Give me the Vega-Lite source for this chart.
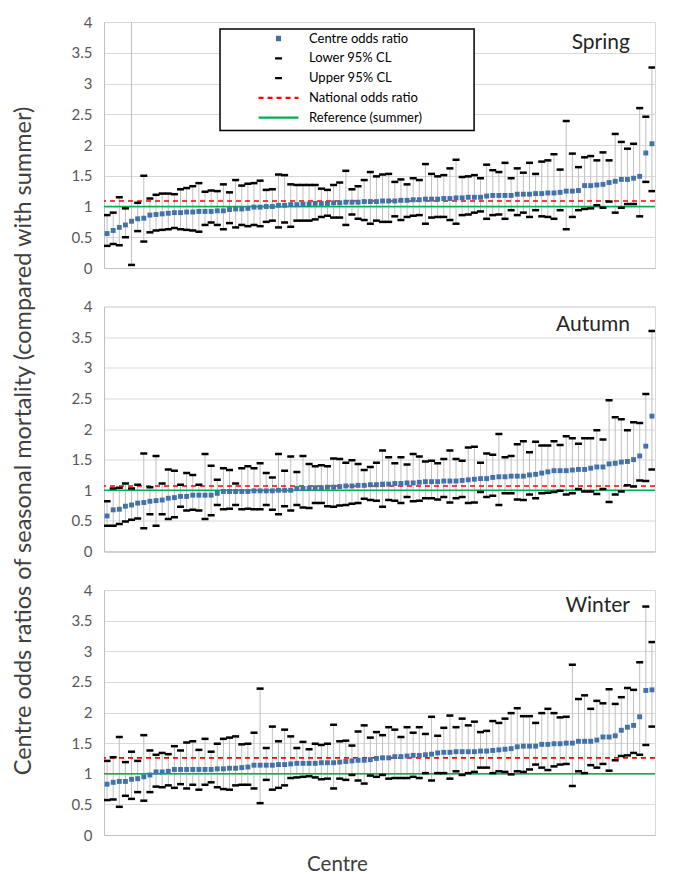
{
  "$schema": "https://vega.github.io/schema/vega-lite/v6.json",
  "background": "white",
  "padding": {"left": 10, "top": 14, "right": 5, "bottom": 5},
  "bounds": "flush",
  "spacing": 38.5,
  "config": {
    "font": "Lato",
    "view": {"stroke": "#d9d9d9", "strokeWidth": 1},
    "axis": {"labelFont": "Lato", "titleFont": "Lato", "labelOverlap": false},
    "axisY": {"tickCount": 9, "labelOverlap": false, "labelFlush": false, "labelSeparation": 0},
    "text": {"font": "Lato"}
  },
  "datasets": {
    "panels": [
      {"season": "Spring", "national": 1.09, "reference": 1},
      {"season": "Autumn", "national": 1.07, "reference": 1},
      {"season": "Winter", "national": 1.26, "reference": 1}
    ],
    "legend": [
      {"item": "Centre odds ratio"},
      {"item": "Lower 95% CL"},
      {"item": "Upper 95% CL"},
      {"item": "National odds ratio"},
      {"item": "Reference (summer)"}
    ],
    "centres": [
      {"season":"Spring","centre":1,"odds":0.56,"lower":0.36,"upper":0.86},
      {"season":"Spring","centre":2,"odds":0.61,"lower":0.39,"upper":0.90},
      {"season":"Spring","centre":3,"odds":0.66,"lower":0.37,"upper":1.15},
      {"season":"Spring","centre":4,"odds":0.70,"lower":0.50,"upper":0.97},
      {"season":"Spring","centre":5,"odds":0.76,"lower":0.05,"upper":9.00},
      {"season":"Spring","centre":6,"odds":0.80,"lower":0.60,"upper":1.06},
      {"season":"Spring","centre":7,"odds":0.81,"lower":0.43,"upper":1.50},
      {"season":"Spring","centre":8,"odds":0.86,"lower":0.58,"upper":1.13},
      {"season":"Spring","centre":9,"odds":0.87,"lower":0.61,"upper":1.19},
      {"season":"Spring","centre":10,"odds":0.88,"lower":0.62,"upper":1.21},
      {"season":"Spring","centre":11,"odds":0.89,"lower":0.63,"upper":1.21},
      {"season":"Spring","centre":12,"odds":0.90,"lower":0.65,"upper":1.20},
      {"season":"Spring","centre":13,"odds":0.90,"lower":0.63,"upper":1.28},
      {"season":"Spring","centre":14,"odds":0.91,"lower":0.62,"upper":1.30},
      {"season":"Spring","centre":15,"odds":0.91,"lower":0.61,"upper":1.33},
      {"season":"Spring","centre":16,"odds":0.92,"lower":0.59,"upper":1.38},
      {"season":"Spring","centre":17,"odds":0.92,"lower":0.70,"upper":1.24},
      {"season":"Spring","centre":18,"odds":0.92,"lower":0.74,"upper":1.26},
      {"season":"Spring","centre":19,"odds":0.93,"lower":0.70,"upper":1.25},
      {"season":"Spring","centre":20,"odds":0.93,"lower":0.63,"upper":1.36},
      {"season":"Spring","centre":21,"odds":0.95,"lower":0.73,"upper":1.23},
      {"season":"Spring","centre":22,"odds":0.96,"lower":0.66,"upper":1.43},
      {"season":"Spring","centre":23,"odds":0.96,"lower":0.70,"upper":1.34},
      {"season":"Spring","centre":24,"odds":0.97,"lower":0.68,"upper":1.37},
      {"season":"Spring","centre":25,"odds":0.99,"lower":0.70,"upper":1.38},
      {"season":"Spring","centre":26,"odds":0.99,"lower":0.68,"upper":1.42},
      {"season":"Spring","centre":27,"odds":1.00,"lower":0.75,"upper":1.27},
      {"season":"Spring","centre":28,"odds":1.00,"lower":0.77,"upper":1.28},
      {"season":"Spring","centre":29,"odds":1.02,"lower":0.66,"upper":1.52},
      {"season":"Spring","centre":30,"odds":1.02,"lower":0.74,"upper":1.51},
      {"season":"Spring","centre":31,"odds":1.03,"lower":0.67,"upper":1.36},
      {"season":"Spring","centre":32,"odds":1.03,"lower":0.77,"upper":1.35},
      {"season":"Spring","centre":33,"odds":1.04,"lower":0.77,"upper":1.35},
      {"season":"Spring","centre":34,"odds":1.04,"lower":0.77,"upper":1.35},
      {"season":"Spring","centre":35,"odds":1.05,"lower":0.79,"upper":1.35},
      {"season":"Spring","centre":36,"odds":1.05,"lower":0.83,"upper":1.29},
      {"season":"Spring","centre":37,"odds":1.05,"lower":0.85,"upper":1.27},
      {"season":"Spring","centre":38,"odds":1.06,"lower":0.82,"upper":1.35},
      {"season":"Spring","centre":39,"odds":1.06,"lower":0.82,"upper":1.39},
      {"season":"Spring","centre":40,"odds":1.07,"lower":0.70,"upper":1.58},
      {"season":"Spring","centre":41,"odds":1.07,"lower":0.87,"upper":1.28},
      {"season":"Spring","centre":42,"odds":1.07,"lower":0.80,"upper":1.33},
      {"season":"Spring","centre":43,"odds":1.08,"lower":0.78,"upper":1.43},
      {"season":"Spring","centre":44,"odds":1.08,"lower":0.72,"upper":1.56},
      {"season":"Spring","centre":45,"odds":1.08,"lower":0.77,"upper":1.49},
      {"season":"Spring","centre":46,"odds":1.09,"lower":0.75,"upper":1.52},
      {"season":"Spring","centre":47,"odds":1.09,"lower":0.75,"upper":1.53},
      {"season":"Spring","centre":48,"odds":1.09,"lower":0.84,"upper":1.40},
      {"season":"Spring","centre":49,"odds":1.10,"lower":0.78,"upper":1.44},
      {"season":"Spring","centre":50,"odds":1.10,"lower":0.83,"upper":1.36},
      {"season":"Spring","centre":51,"odds":1.11,"lower":0.85,"upper":1.46},
      {"season":"Spring","centre":52,"odds":1.11,"lower":0.86,"upper":1.43},
      {"season":"Spring","centre":53,"odds":1.12,"lower":0.72,"upper":1.69},
      {"season":"Spring","centre":54,"odds":1.12,"lower":0.82,"upper":1.53},
      {"season":"Spring","centre":55,"odds":1.12,"lower":0.83,"upper":1.49},
      {"season":"Spring","centre":56,"odds":1.13,"lower":0.83,"upper":1.51},
      {"season":"Spring","centre":57,"odds":1.13,"lower":0.78,"upper":1.62},
      {"season":"Spring","centre":58,"odds":1.14,"lower":0.72,"upper":1.76},
      {"season":"Spring","centre":59,"odds":1.14,"lower":0.86,"upper":1.48},
      {"season":"Spring","centre":60,"odds":1.15,"lower":0.87,"upper":1.49},
      {"season":"Spring","centre":61,"odds":1.15,"lower":0.90,"upper":1.51},
      {"season":"Spring","centre":62,"odds":1.15,"lower":0.92,"upper":1.46},
      {"season":"Spring","centre":63,"odds":1.17,"lower":0.80,"upper":1.68},
      {"season":"Spring","centre":64,"odds":1.18,"lower":0.86,"upper":1.59},
      {"season":"Spring","centre":65,"odds":1.18,"lower":0.87,"upper":1.56},
      {"season":"Spring","centre":66,"odds":1.18,"lower":0.80,"upper":1.71},
      {"season":"Spring","centre":67,"odds":1.18,"lower":0.94,"upper":1.46},
      {"season":"Spring","centre":68,"odds":1.20,"lower":0.86,"upper":1.62},
      {"season":"Spring","centre":69,"odds":1.20,"lower":0.90,"upper":1.55},
      {"season":"Spring","centre":70,"odds":1.20,"lower":0.83,"upper":1.71},
      {"season":"Spring","centre":71,"odds":1.21,"lower":0.94,"upper":1.53},
      {"season":"Spring","centre":72,"odds":1.21,"lower":0.84,"upper":1.73},
      {"season":"Spring","centre":73,"odds":1.22,"lower":0.83,"upper":1.75},
      {"season":"Spring","centre":74,"odds":1.22,"lower":0.80,"upper":1.85},
      {"season":"Spring","centre":75,"odds":1.23,"lower":0.94,"upper":1.60},
      {"season":"Spring","centre":76,"odds":1.25,"lower":0.63,"upper":2.39},
      {"season":"Spring","centre":77,"odds":1.25,"lower":0.83,"upper":1.86},
      {"season":"Spring","centre":78,"odds":1.26,"lower":0.94,"upper":1.64},
      {"season":"Spring","centre":79,"odds":1.34,"lower":0.96,"upper":1.80},
      {"season":"Spring","centre":80,"odds":1.34,"lower":0.97,"upper":1.82},
      {"season":"Spring","centre":81,"odds":1.35,"lower":1.02,"upper":1.75},
      {"season":"Spring","centre":82,"odds":1.36,"lower":0.98,"upper":1.88},
      {"season":"Spring","centre":83,"odds":1.39,"lower":1.08,"upper":1.75},
      {"season":"Spring","centre":84,"odds":1.41,"lower":0.90,"upper":2.18},
      {"season":"Spring","centre":85,"odds":1.44,"lower":0.98,"upper":2.05},
      {"season":"Spring","centre":86,"odds":1.44,"lower":1.04,"upper":1.94},
      {"season":"Spring","centre":87,"odds":1.46,"lower":1.04,"upper":2.02},
      {"season":"Spring","centre":88,"odds":1.49,"lower":0.84,"upper":2.60},
      {"season":"Spring","centre":89,"odds":1.87,"lower":1.40,"upper":2.46},
      {"season":"Spring","centre":90,"odds":2.02,"lower":1.25,"upper":3.26},
      {"season":"Autumn","centre":1,"odds":0.58,"lower":0.42,"upper":0.82},
      {"season":"Autumn","centre":2,"odds":0.68,"lower":0.42,"upper":1.03},
      {"season":"Autumn","centre":3,"odds":0.69,"lower":0.45,"upper":1.04},
      {"season":"Autumn","centre":4,"odds":0.74,"lower":0.49,"upper":1.11},
      {"season":"Autumn","centre":5,"odds":0.76,"lower":0.52,"upper":1.03},
      {"season":"Autumn","centre":6,"odds":0.79,"lower":0.54,"upper":1.09},
      {"season":"Autumn","centre":7,"odds":0.80,"lower":0.38,"upper":1.60},
      {"season":"Autumn","centre":8,"odds":0.82,"lower":0.61,"upper":1.05},
      {"season":"Autumn","centre":9,"odds":0.83,"lower":0.42,"upper":1.56},
      {"season":"Autumn","centre":10,"odds":0.84,"lower":0.61,"upper":1.11},
      {"season":"Autumn","centre":11,"odds":0.87,"lower":0.53,"upper":1.34},
      {"season":"Autumn","centre":12,"odds":0.88,"lower":0.56,"upper":1.32},
      {"season":"Autumn","centre":13,"odds":0.90,"lower":0.73,"upper":1.09},
      {"season":"Autumn","centre":14,"odds":0.90,"lower":0.67,"upper":1.28},
      {"season":"Autumn","centre":15,"odds":0.92,"lower":0.68,"upper":1.25},
      {"season":"Autumn","centre":16,"odds":0.92,"lower":0.67,"upper":1.09},
      {"season":"Autumn","centre":17,"odds":0.92,"lower":0.53,"upper":1.59},
      {"season":"Autumn","centre":18,"odds":0.92,"lower":0.59,"upper":1.40},
      {"season":"Autumn","centre":19,"odds":0.95,"lower":0.76,"upper":1.17},
      {"season":"Autumn","centre":20,"odds":0.98,"lower":0.69,"upper":1.36},
      {"season":"Autumn","centre":21,"odds":0.98,"lower":0.70,"upper":1.33},
      {"season":"Autumn","centre":22,"odds":0.98,"lower":0.76,"upper":1.11},
      {"season":"Autumn","centre":23,"odds":0.98,"lower":0.69,"upper":1.36},
      {"season":"Autumn","centre":24,"odds":0.98,"lower":0.70,"upper":1.39},
      {"season":"Autumn","centre":25,"odds":0.99,"lower":0.69,"upper":1.36},
      {"season":"Autumn","centre":26,"odds":0.99,"lower":0.69,"upper":1.44},
      {"season":"Autumn","centre":27,"odds":0.99,"lower":0.76,"upper":1.28},
      {"season":"Autumn","centre":28,"odds":0.99,"lower":0.68,"upper":1.21},
      {"season":"Autumn","centre":29,"odds":1.00,"lower":0.61,"upper":1.59},
      {"season":"Autumn","centre":30,"odds":1.00,"lower":0.74,"upper":1.32},
      {"season":"Autumn","centre":31,"odds":1.00,"lower":0.67,"upper":1.55},
      {"season":"Autumn","centre":32,"odds":1.03,"lower":0.76,"upper":1.30},
      {"season":"Autumn","centre":33,"odds":1.03,"lower":0.72,"upper":1.56},
      {"season":"Autumn","centre":34,"odds":1.03,"lower":0.71,"upper":1.43},
      {"season":"Autumn","centre":35,"odds":1.04,"lower":0.79,"upper":1.39},
      {"season":"Autumn","centre":36,"odds":1.04,"lower":0.79,"upper":1.41},
      {"season":"Autumn","centre":37,"odds":1.05,"lower":0.74,"upper":1.39},
      {"season":"Autumn","centre":38,"odds":1.05,"lower":0.73,"upper":1.52},
      {"season":"Autumn","centre":39,"odds":1.06,"lower":0.75,"upper":1.51},
      {"season":"Autumn","centre":40,"odds":1.07,"lower":0.76,"upper":1.45},
      {"season":"Autumn","centre":41,"odds":1.07,"lower":0.78,"upper":1.49},
      {"season":"Autumn","centre":42,"odds":1.08,"lower":0.79,"upper":1.43},
      {"season":"Autumn","centre":43,"odds":1.08,"lower":0.86,"upper":1.33},
      {"season":"Autumn","centre":44,"odds":1.09,"lower":0.84,"upper":1.38},
      {"season":"Autumn","centre":45,"odds":1.09,"lower":0.83,"upper":1.45},
      {"season":"Autumn","centre":46,"odds":1.10,"lower":0.73,"upper":1.65},
      {"season":"Autumn","centre":47,"odds":1.10,"lower":0.84,"upper":1.54},
      {"season":"Autumn","centre":48,"odds":1.11,"lower":0.83,"upper":1.44},
      {"season":"Autumn","centre":49,"odds":1.11,"lower":0.79,"upper":1.54},
      {"season":"Autumn","centre":50,"odds":1.12,"lower":0.89,"upper":1.42},
      {"season":"Autumn","centre":51,"odds":1.12,"lower":0.82,"upper":1.59},
      {"season":"Autumn","centre":52,"odds":1.13,"lower":0.83,"upper":1.55},
      {"season":"Autumn","centre":53,"odds":1.14,"lower":0.87,"upper":1.47},
      {"season":"Autumn","centre":54,"odds":1.14,"lower":0.87,"upper":1.48},
      {"season":"Autumn","centre":55,"odds":1.14,"lower":0.85,"upper":1.44},
      {"season":"Autumn","centre":56,"odds":1.15,"lower":0.89,"upper":1.51},
      {"season":"Autumn","centre":57,"odds":1.15,"lower":0.80,"upper":1.65},
      {"season":"Autumn","centre":58,"odds":1.15,"lower":0.87,"upper":1.51},
      {"season":"Autumn","centre":59,"odds":1.16,"lower":0.89,"upper":1.48},
      {"season":"Autumn","centre":60,"odds":1.17,"lower":0.79,"upper":1.70},
      {"season":"Autumn","centre":61,"odds":1.18,"lower":0.80,"upper":1.71},
      {"season":"Autumn","centre":62,"odds":1.19,"lower":0.97,"upper":1.45},
      {"season":"Autumn","centre":63,"odds":1.19,"lower":0.89,"upper":1.60},
      {"season":"Autumn","centre":64,"odds":1.21,"lower":0.91,"upper":1.58},
      {"season":"Autumn","centre":65,"odds":1.22,"lower":0.76,"upper":1.92},
      {"season":"Autumn","centre":66,"odds":1.22,"lower":0.95,"upper":1.54},
      {"season":"Autumn","centre":67,"odds":1.23,"lower":0.95,"upper":1.56},
      {"season":"Autumn","centre":68,"odds":1.23,"lower":0.85,"upper":1.75},
      {"season":"Autumn","centre":69,"odds":1.23,"lower":0.84,"upper":1.80},
      {"season":"Autumn","centre":70,"odds":1.25,"lower":0.93,"upper":1.62},
      {"season":"Autumn","centre":71,"odds":1.26,"lower":0.87,"upper":1.79},
      {"season":"Autumn","centre":72,"odds":1.28,"lower":0.95,"upper":1.73},
      {"season":"Autumn","centre":73,"odds":1.30,"lower":0.96,"upper":1.73},
      {"season":"Autumn","centre":74,"odds":1.32,"lower":0.97,"upper":1.80},
      {"season":"Autumn","centre":75,"odds":1.32,"lower":0.99,"upper":1.74},
      {"season":"Autumn","centre":76,"odds":1.32,"lower":0.93,"upper":1.88},
      {"season":"Autumn","centre":77,"odds":1.33,"lower":0.95,"upper":1.85},
      {"season":"Autumn","centre":78,"odds":1.34,"lower":1.02,"upper":1.76},
      {"season":"Autumn","centre":79,"odds":1.34,"lower":0.98,"upper":1.85},
      {"season":"Autumn","centre":80,"odds":1.36,"lower":0.98,"upper":1.85},
      {"season":"Autumn","centre":81,"odds":1.38,"lower":0.94,"upper":1.98},
      {"season":"Autumn","centre":82,"odds":1.38,"lower":1.02,"upper":1.83},
      {"season":"Autumn","centre":83,"odds":1.43,"lower":0.81,"upper":2.47},
      {"season":"Autumn","centre":84,"odds":1.44,"lower":0.93,"upper":2.19},
      {"season":"Autumn","centre":85,"odds":1.46,"lower":0.98,"upper":2.16},
      {"season":"Autumn","centre":86,"odds":1.47,"lower":1.08,"upper":1.98},
      {"season":"Autumn","centre":87,"odds":1.50,"lower":1.06,"upper":2.11},
      {"season":"Autumn","centre":88,"odds":1.56,"lower":1.16,"upper":2.10},
      {"season":"Autumn","centre":89,"odds":1.72,"lower":1.15,"upper":2.57},
      {"season":"Autumn","centre":90,"odds":2.21,"lower":1.34,"upper":3.60},
      {"season":"Winter","centre":1,"odds":0.83,"lower":0.57,"upper":1.21},
      {"season":"Winter","centre":2,"odds":0.86,"lower":0.58,"upper":1.27},
      {"season":"Winter","centre":3,"odds":0.875,"lower":0.46,"upper":1.60},
      {"season":"Winter","centre":4,"odds":0.875,"lower":0.64,"upper":1.19},
      {"season":"Winter","centre":5,"odds":0.91,"lower":0.59,"upper":1.36},
      {"season":"Winter","centre":6,"odds":0.92,"lower":0.70,"upper":1.21},
      {"season":"Winter","centre":7,"odds":0.95,"lower":0.56,"upper":1.63},
      {"season":"Winter","centre":8,"odds":0.98,"lower":0.70,"upper":1.38},
      {"season":"Winter","centre":9,"odds":1.03,"lower":0.79,"upper":1.31},
      {"season":"Winter","centre":10,"odds":1.03,"lower":0.78,"upper":1.34},
      {"season":"Winter","centre":11,"odds":1.04,"lower":0.81,"upper":1.32},
      {"season":"Winter","centre":12,"odds":1.07,"lower":0.77,"upper":1.45},
      {"season":"Winter","centre":13,"odds":1.07,"lower":0.83,"upper":1.38},
      {"season":"Winter","centre":14,"odds":1.07,"lower":0.76,"upper":1.51},
      {"season":"Winter","centre":15,"odds":1.07,"lower":0.82,"upper":1.53},
      {"season":"Winter","centre":16,"odds":1.07,"lower":0.74,"upper":1.39},
      {"season":"Winter","centre":17,"odds":1.07,"lower":0.82,"upper":1.57},
      {"season":"Winter","centre":18,"odds":1.07,"lower":0.86,"upper":1.36},
      {"season":"Winter","centre":19,"odds":1.08,"lower":0.78,"upper":1.49},
      {"season":"Winter","centre":20,"odds":1.08,"lower":0.75,"upper":1.57},
      {"season":"Winter","centre":21,"odds":1.09,"lower":0.74,"upper":1.59},
      {"season":"Winter","centre":22,"odds":1.09,"lower":0.81,"upper":1.61},
      {"season":"Winter","centre":23,"odds":1.10,"lower":0.82,"upper":1.48},
      {"season":"Winter","centre":24,"odds":1.11,"lower":0.82,"upper":1.49},
      {"season":"Winter","centre":25,"odds":1.14,"lower":0.76,"upper":1.67},
      {"season":"Winter","centre":26,"odds":1.14,"lower":0.52,"upper":2.39},
      {"season":"Winter","centre":27,"odds":1.14,"lower":0.90,"upper":1.42},
      {"season":"Winter","centre":28,"odds":1.14,"lower":0.74,"upper":1.77},
      {"season":"Winter","centre":29,"odds":1.15,"lower":0.77,"upper":1.53},
      {"season":"Winter","centre":30,"odds":1.15,"lower":0.81,"upper":1.72},
      {"season":"Winter","centre":31,"odds":1.16,"lower":0.93,"upper":1.61},
      {"season":"Winter","centre":32,"odds":1.17,"lower":0.94,"upper":1.42},
      {"season":"Winter","centre":33,"odds":1.17,"lower":0.95,"upper":1.52},
      {"season":"Winter","centre":34,"odds":1.17,"lower":0.96,"upper":1.40},
      {"season":"Winter","centre":35,"odds":1.17,"lower":0.94,"upper":1.49},
      {"season":"Winter","centre":36,"odds":1.18,"lower":0.91,"upper":1.47},
      {"season":"Winter","centre":37,"odds":1.18,"lower":0.92,"upper":1.49},
      {"season":"Winter","centre":38,"odds":1.18,"lower":0.76,"upper":1.80},
      {"season":"Winter","centre":39,"odds":1.19,"lower":0.92,"upper":1.53},
      {"season":"Winter","centre":40,"odds":1.20,"lower":0.90,"upper":1.54},
      {"season":"Winter","centre":41,"odds":1.21,"lower":0.98,"upper":1.46},
      {"season":"Winter","centre":42,"odds":1.22,"lower":0.89,"upper":1.69},
      {"season":"Winter","centre":43,"odds":1.22,"lower":0.84,"upper":1.79},
      {"season":"Winter","centre":44,"odds":1.23,"lower":0.97,"upper":1.59},
      {"season":"Winter","centre":45,"odds":1.25,"lower":0.95,"upper":1.68},
      {"season":"Winter","centre":46,"odds":1.26,"lower":0.98,"upper":1.63},
      {"season":"Winter","centre":47,"odds":1.26,"lower":0.92,"upper":1.76},
      {"season":"Winter","centre":48,"odds":1.28,"lower":0.93,"upper":1.72},
      {"season":"Winter","centre":49,"odds":1.28,"lower":0.93,"upper":1.60},
      {"season":"Winter","centre":50,"odds":1.29,"lower":0.93,"upper":1.76},
      {"season":"Winter","centre":51,"odds":1.30,"lower":0.95,"upper":1.67},
      {"season":"Winter","centre":52,"odds":1.30,"lower":0.93,"upper":1.76},
      {"season":"Winter","centre":53,"odds":1.31,"lower":1.01,"upper":1.65},
      {"season":"Winter","centre":54,"odds":1.32,"lower":0.89,"upper":1.93},
      {"season":"Winter","centre":55,"odds":1.34,"lower":1.01,"upper":1.62},
      {"season":"Winter","centre":56,"odds":1.35,"lower":1.01,"upper":1.75},
      {"season":"Winter","centre":57,"odds":1.35,"lower":0.92,"upper":1.95},
      {"season":"Winter","centre":58,"odds":1.36,"lower":1.04,"upper":1.76},
      {"season":"Winter","centre":59,"odds":1.36,"lower":0.98,"upper":1.90},
      {"season":"Winter","centre":60,"odds":1.36,"lower":1.01,"upper":1.79},
      {"season":"Winter","centre":61,"odds":1.36,"lower":1.03,"upper":1.85},
      {"season":"Winter","centre":62,"odds":1.37,"lower":1.10,"upper":1.68},
      {"season":"Winter","centre":63,"odds":1.37,"lower":1.10,"upper":1.70},
      {"season":"Winter","centre":64,"odds":1.38,"lower":1.01,"upper":1.86},
      {"season":"Winter","centre":65,"odds":1.39,"lower":1.04,"upper":1.83},
      {"season":"Winter","centre":66,"odds":1.40,"lower":1.03,"upper":1.90},
      {"season":"Winter","centre":67,"odds":1.41,"lower":0.99,"upper":1.99},
      {"season":"Winter","centre":68,"odds":1.44,"lower":1.04,"upper":2.07},
      {"season":"Winter","centre":69,"odds":1.45,"lower":1.03,"upper":1.94},
      {"season":"Winter","centre":70,"odds":1.45,"lower":1.07,"upper":1.94},
      {"season":"Winter","centre":71,"odds":1.45,"lower":1.15,"upper":1.83},
      {"season":"Winter","centre":72,"odds":1.48,"lower":1.10,"upper":1.99},
      {"season":"Winter","centre":73,"odds":1.48,"lower":1.06,"upper":2.06},
      {"season":"Winter","centre":74,"odds":1.49,"lower":1.12,"upper":1.99},
      {"season":"Winter","centre":75,"odds":1.49,"lower":1.15,"upper":1.92},
      {"season":"Winter","centre":76,"odds":1.50,"lower":1.16,"upper":1.93},
      {"season":"Winter","centre":77,"odds":1.50,"lower":0.80,"upper":2.78},
      {"season":"Winter","centre":78,"odds":1.53,"lower":1.04,"upper":2.22},
      {"season":"Winter","centre":79,"odds":1.53,"lower":1.01,"upper":2.28},
      {"season":"Winter","centre":80,"odds":1.53,"lower":1.14,"upper":2.06},
      {"season":"Winter","centre":81,"odds":1.55,"lower":1.10,"upper":2.19},
      {"season":"Winter","centre":82,"odds":1.60,"lower":1.16,"upper":2.15},
      {"season":"Winter","centre":83,"odds":1.60,"lower":1.05,"upper":2.38},
      {"season":"Winter","centre":84,"odds":1.62,"lower":1.22,"upper":2.14},
      {"season":"Winter","centre":85,"odds":1.71,"lower":1.29,"upper":2.25},
      {"season":"Winter","centre":86,"odds":1.76,"lower":1.30,"upper":2.40},
      {"season":"Winter","centre":87,"odds":1.79,"lower":1.34,"upper":2.37},
      {"season":"Winter","centre":88,"odds":1.93,"lower":1.31,"upper":2.82},
      {"season":"Winter","centre":89,"odds":2.36,"lower":1.47,"upper":3.73},
      {"season":"Winter","centre":90,"odds":2.37,"lower":1.77,"upper":3.15}
    ]
  },
  "vconcat": [
    {
      "width": 551,
      "height": 246,
      "layer": [
        {
          "data": {"name": "centres"},
          "transform": [{"filter": "datum.season === 'Spring'"}],
          "mark": {"type": "rule", "color": "#bfbfbf", "strokeWidth": 1, "clip": true},
          "encoding": {
            "x": {"field": "centre", "type": "quantitative", "scale": {"domain": [0.5, 90.5], "nice": false, "zero": false}, "axis": {"title": null, "labels": false, "ticks": false, "grid": false, "domainColor": "#bfbfbf"}},
            "y": {"field": "lower", "type": "quantitative", "scale": {"domain": [0, 4], "nice": false}, "axis": {"title": null, "values": [0, 0.5, 1, 1.5, 2, 2.5, 3, 3.5, 4], "tickCount": 9, "format": ".1~f", "labelOverlap": false, "grid": true, "gridColor": "#d9d9d9", "domainColor": "#bfbfbf", "ticks": false, "tickSize": 0, "labelPadding": 12, "labelFontSize": 15, "labelColor": "#595959"}},
            "y2": {"field": "upper"}
          }
        },
        {
          "data": {"name": "panels"},
          "transform": [{"filter": "datum.season === 'Spring'"}],
          "mark": {"type": "rule", "color": "#ff0000", "strokeWidth": 1.6, "strokeDash": [5, 4]},
          "encoding": {"y": {"field": "national", "type": "quantitative"}}
        },
        {
          "data": {"name": "panels"},
          "transform": [{"filter": "datum.season === 'Spring'"}],
          "mark": {"type": "rule", "color": "#00b050", "strokeWidth": 1.5},
          "encoding": {"y": {"field": "reference", "type": "quantitative"}}
        },
        {
          "data": {"name": "centres"},
          "transform": [{"filter": "datum.season === 'Spring'"}],
          "mark": {"type": "tick", "orient": "horizontal", "color": "#000000", "thickness": 2.5, "size": 7, "opacity": 1, "clip": true},
          "encoding": {
            "x": {"field": "centre", "type": "quantitative"},
            "y": {"field": "lower", "type": "quantitative"}
          }
        },
        {
          "data": {"name": "centres"},
          "transform": [{"filter": "datum.season === 'Spring'"}],
          "mark": {"type": "tick", "orient": "horizontal", "color": "#000000", "thickness": 2.5, "size": 7, "opacity": 1, "clip": true},
          "encoding": {
            "x": {"field": "centre", "type": "quantitative"},
            "y": {"field": "upper", "type": "quantitative"}
          }
        },
        {
          "data": {"name": "centres"},
          "transform": [{"filter": "datum.season === 'Spring'"}],
          "mark": {"type": "point", "shape": "square", "filled": true, "size": 24, "color": "#4472a8", "opacity": 1},
          "encoding": {
            "x": {"field": "centre", "type": "quantitative"},
            "y": {"field": "odds", "type": "quantitative"}
          }
        },
        {
          "data": {"name": "panels"},
          "transform": [{"filter": "datum.season === 'Spring'"}],
          "mark": {"type": "rect", "fill": "#ffffff", "stroke": "#000000", "strokeWidth": 1.5, "opacity": 1},
          "encoding": {
            "x": {"datum": 19.45, "type": "quantitative"},
            "x2": {"datum": 60.95},
            "y": {"datum": 3.885, "type": "quantitative"},
            "y2": {"datum": 2.235}
          }
        },
        {
          "data": {"name": "panels"},
          "transform": [{"filter": "datum.season === 'Spring'"}],
          "mark": {"type": "text", "align": "right", "baseline": "middle", "fontSize": 21, "color": "#262626"},
          "encoding": {"x": {"datum": 86.4, "type": "quantitative"}, "y": {"datum": 3.66, "type": "quantitative"}, "text": {"field": "season"}}
        },
        {
          "data": {"name": "legend"},
          "transform": [{"filter": "false"}],
          "mark": {"type": "point", "filled": false, "opacity": 1},
          "encoding": {
            "color": {
              "field": "item", "type": "nominal",
              "scale": {"domain": ["Centre odds ratio", "Lower 95% CL", "Upper 95% CL", "National odds ratio", "Reference (summer)"], "range": ["#4472a8", "#000000", "#000000", "#ff0000", "#00b050"]},
              "legend": {"title": null, "orient": "none", "legendX": 116, "legendY": 7, "padding": 3, "symbolOffset": 49, "symbolSize": 9, "symbolStrokeWidth": 2.2, "symbolOpacity": 1, "labelOffset": 24, "rowPadding": 5.8, "labelFontSize": 13, "labelFont": "Lato", "labelColor": "#000000"}
            },
            "shape": {
              "field": "item", "type": "nominal",
              "scale": {"domain": ["Centre odds ratio", "Lower 95% CL", "Upper 95% CL", "National odds ratio", "Reference (summer)"], "range": ["M-1.7,-1.1H1.7M-1.7,0H1.7M-1.7,1.1H1.7", "M-2.3,0H2.3", "M-2.3,0H2.3", "M-13.3,0H13.3", "M-13.3,0H13.3"]},
              "legend": {"title": null, "orient": "none", "legendX": 116, "legendY": 7, "padding": 3, "symbolOffset": 49, "symbolSize": 9, "symbolStrokeWidth": 2.2, "symbolOpacity": 1, "labelOffset": 24, "rowPadding": 5.8, "labelFontSize": 13, "labelFont": "Lato", "labelColor": "#000000"}
            },
            "strokeDash": {
              "field": "item", "type": "nominal",
              "scale": {"domain": ["Centre odds ratio", "Lower 95% CL", "Upper 95% CL", "National odds ratio", "Reference (summer)"], "range": [[1, 0], [1, 0], [1, 0], [5, 4], [1, 0]]},
              "legend": {"title": null, "orient": "none", "legendX": 116, "legendY": 7, "padding": 3, "symbolOffset": 49, "symbolSize": 9, "symbolStrokeWidth": 2.2, "symbolOpacity": 1, "labelOffset": 24, "rowPadding": 5.8, "labelFontSize": 13, "labelFont": "Lato", "labelColor": "#000000"}
            }
          }
        }
      ]
    },
    {
      "width": 551,
      "height": 245,
      "layer": [
        {
          "data": {"name": "centres"},
          "transform": [{"filter": "datum.season === 'Autumn'"}],
          "mark": {"type": "rule", "color": "#bfbfbf", "strokeWidth": 1, "clip": true},
          "encoding": {
            "x": {"field": "centre", "type": "quantitative", "scale": {"domain": [0.5, 90.5], "nice": false, "zero": false}, "axis": {"title": null, "labels": false, "ticks": false, "grid": false, "domainColor": "#bfbfbf"}},
            "y": {"field": "lower", "type": "quantitative", "scale": {"domain": [0, 4], "nice": false}, "axis": {"title": "Centre odds ratios of seasonal mortality (compared with summer)", "titleFontSize": 23.5, "titleFontWeight": "normal", "titleColor": "#404040", "titleX": -81, "titleY": 134, "titleAngle": -90, "titleBaseline": "middle", "titleAlign": "center", "values": [0, 0.5, 1, 1.5, 2, 2.5, 3, 3.5, 4], "tickCount": 9, "format": ".1~f", "labelOverlap": false, "grid": true, "gridColor": "#d9d9d9", "domainColor": "#bfbfbf", "ticks": false, "tickSize": 0, "labelPadding": 12, "labelFontSize": 15, "labelColor": "#595959"}},
            "y2": {"field": "upper"}
          }
        },
        {
          "data": {"name": "panels"},
          "transform": [{"filter": "datum.season === 'Autumn'"}],
          "mark": {"type": "rule", "color": "#ff0000", "strokeWidth": 1.6, "strokeDash": [5, 4]},
          "encoding": {"y": {"field": "national", "type": "quantitative"}}
        },
        {
          "data": {"name": "panels"},
          "transform": [{"filter": "datum.season === 'Autumn'"}],
          "mark": {"type": "rule", "color": "#00b050", "strokeWidth": 1.5},
          "encoding": {"y": {"field": "reference", "type": "quantitative"}}
        },
        {
          "data": {"name": "centres"},
          "transform": [{"filter": "datum.season === 'Autumn'"}],
          "mark": {"type": "tick", "orient": "horizontal", "color": "#000000", "thickness": 2.5, "size": 7, "opacity": 1, "clip": true},
          "encoding": {
            "x": {"field": "centre", "type": "quantitative"},
            "y": {"field": "lower", "type": "quantitative"}
          }
        },
        {
          "data": {"name": "centres"},
          "transform": [{"filter": "datum.season === 'Autumn'"}],
          "mark": {"type": "tick", "orient": "horizontal", "color": "#000000", "thickness": 2.5, "size": 7, "opacity": 1, "clip": true},
          "encoding": {
            "x": {"field": "centre", "type": "quantitative"},
            "y": {"field": "upper", "type": "quantitative"}
          }
        },
        {
          "data": {"name": "centres"},
          "transform": [{"filter": "datum.season === 'Autumn'"}],
          "mark": {"type": "point", "shape": "square", "filled": true, "size": 24, "color": "#4472a8", "opacity": 1},
          "encoding": {
            "x": {"field": "centre", "type": "quantitative"},
            "y": {"field": "odds", "type": "quantitative"}
          }
        },
        {
          "data": {"name": "panels"},
          "transform": [{"filter": "datum.season === 'Autumn'"}],
          "mark": {"type": "text", "align": "right", "baseline": "middle", "fontSize": 21, "color": "#262626"},
          "encoding": {"x": {"datum": 86.4, "type": "quantitative"}, "y": {"datum": 3.70, "type": "quantitative"}, "text": {"field": "season"}}
        }
      ]
    },
    {
      "width": 551,
      "height": 245,
      "layer": [
        {
          "data": {"name": "centres"},
          "transform": [{"filter": "datum.season === 'Winter'"}],
          "mark": {"type": "rule", "color": "#bfbfbf", "strokeWidth": 1, "clip": true},
          "encoding": {
            "x": {"field": "centre", "type": "quantitative", "scale": {"domain": [0.5, 90.5], "nice": false, "zero": false}, "axis": {"title": "Centre", "titleFontSize": 20.5, "titleFontWeight": "normal", "titleColor": "#404040", "titleX": 233, "titleY": 29, "titleBaseline": "middle", "titleAlign": "center", "labels": false, "ticks": false, "grid": false, "domainColor": "#bfbfbf"}},
            "y": {"field": "lower", "type": "quantitative", "scale": {"domain": [0, 4], "nice": false}, "axis": {"title": null, "values": [0, 0.5, 1, 1.5, 2, 2.5, 3, 3.5, 4], "tickCount": 9, "format": ".1~f", "labelOverlap": false, "grid": true, "gridColor": "#d9d9d9", "domainColor": "#bfbfbf", "ticks": false, "tickSize": 0, "labelPadding": 12, "labelFontSize": 15, "labelColor": "#595959"}},
            "y2": {"field": "upper"}
          }
        },
        {
          "data": {"name": "panels"},
          "transform": [{"filter": "datum.season === 'Winter'"}],
          "mark": {"type": "rule", "color": "#ff0000", "strokeWidth": 1.6, "strokeDash": [5, 4]},
          "encoding": {"y": {"field": "national", "type": "quantitative"}}
        },
        {
          "data": {"name": "panels"},
          "transform": [{"filter": "datum.season === 'Winter'"}],
          "mark": {"type": "rule", "color": "#00b050", "strokeWidth": 1.5},
          "encoding": {"y": {"field": "reference", "type": "quantitative"}}
        },
        {
          "data": {"name": "centres"},
          "transform": [{"filter": "datum.season === 'Winter'"}],
          "mark": {"type": "tick", "orient": "horizontal", "color": "#000000", "thickness": 2.5, "size": 7, "opacity": 1, "clip": true},
          "encoding": {
            "x": {"field": "centre", "type": "quantitative"},
            "y": {"field": "lower", "type": "quantitative"}
          }
        },
        {
          "data": {"name": "centres"},
          "transform": [{"filter": "datum.season === 'Winter'"}],
          "mark": {"type": "tick", "orient": "horizontal", "color": "#000000", "thickness": 2.5, "size": 7, "opacity": 1, "clip": true},
          "encoding": {
            "x": {"field": "centre", "type": "quantitative"},
            "y": {"field": "upper", "type": "quantitative"}
          }
        },
        {
          "data": {"name": "centres"},
          "transform": [{"filter": "datum.season === 'Winter'"}],
          "mark": {"type": "point", "shape": "square", "filled": true, "size": 24, "color": "#4472a8", "opacity": 1},
          "encoding": {
            "x": {"field": "centre", "type": "quantitative"},
            "y": {"field": "odds", "type": "quantitative"}
          }
        },
        {
          "data": {"name": "panels"},
          "transform": [{"filter": "datum.season === 'Winter'"}],
          "mark": {"type": "text", "align": "right", "baseline": "middle", "fontSize": 21, "color": "#262626"},
          "encoding": {"x": {"datum": 86.4, "type": "quantitative"}, "y": {"datum": 3.74, "type": "quantitative"}, "text": {"field": "season"}}
        }
      ]
    }
  ]
}
